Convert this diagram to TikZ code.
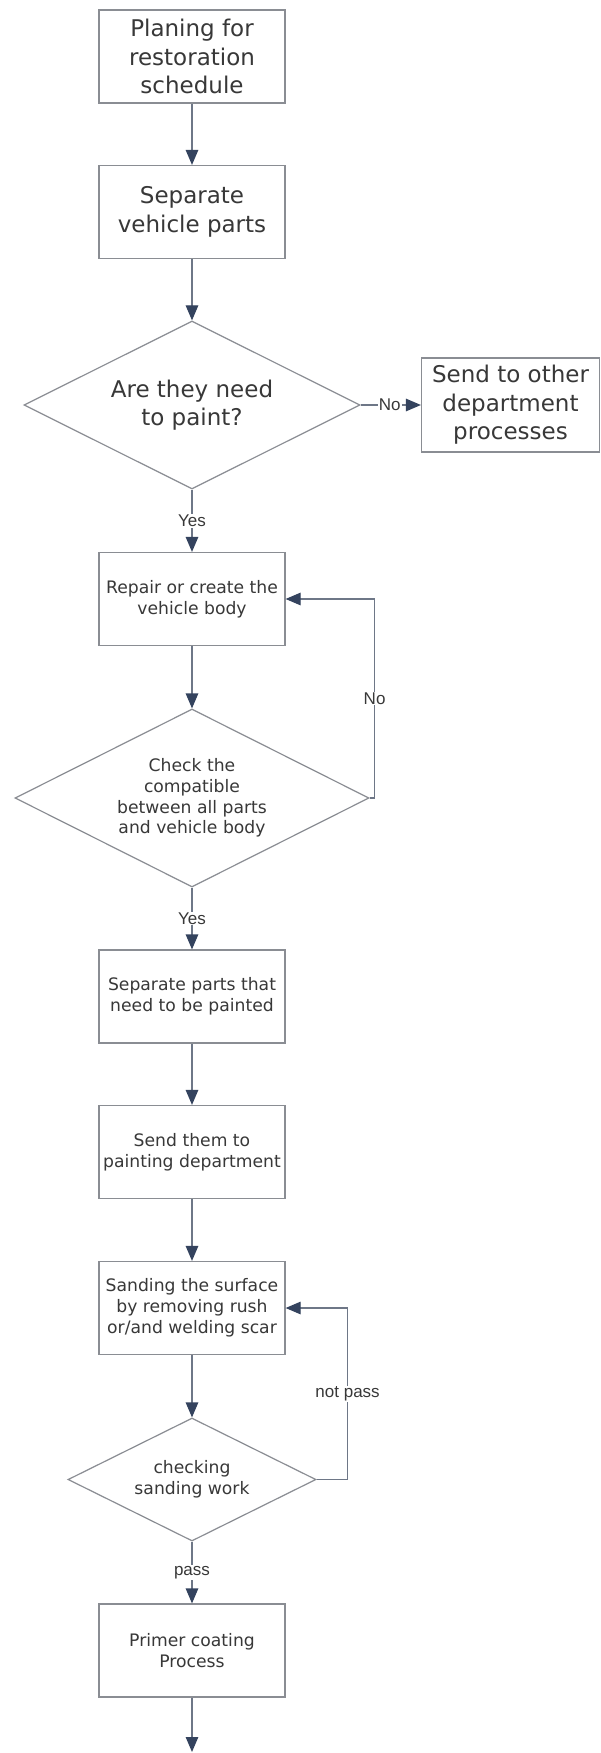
\documentclass[tikz,border=0pt]{standalone}
\usepackage{fontspec}
\setmainfont{DejaVu Sans}
\newfontfamily\labfont{Liberation Sans}
\usetikzlibrary{shapes.geometric,arrows.meta}

\definecolor{boxline}{HTML}{8A8D93}
\definecolor{linkline}{HTML}{6E7787}
\definecolor{tipcol}{HTML}{34435E}
\definecolor{txt}{HTML}{383838}

\tikzset{
  bigtext/.style={font=\fontsize{23}{28.5}\selectfont},
  smalltext/.style={font=\fontsize{17.2}{20.8}\selectfont},
  stepbox/.style={draw=boxline, line width=1.2pt, rectangle, align=center,
    text=txt, minimum width=186pt, minimum height=93pt, inner sep=2pt},
  decide/.style={draw=boxline, line width=1.2pt, diamond, align=center,
    text=txt, inner sep=0pt, aspect=2},
  link/.style={draw=linkline, line width=1.2pt,
    -{Triangle[length=15pt,width=12.5pt,color=tipcol]}},
  lab/.style={font=\labfont\fontsize{17}{20}\selectfont, text=txt,
    fill=white, inner sep=1pt},
}

\begin{document}
\begin{tikzpicture}[x=1pt,y=-1pt]
\useasboundingbox (0,0) rectangle (600,1753);
\fill[white] (0,0) rectangle (600,1753);

% process steps
\node[stepbox, bigtext] (plan) at (192,56.5) {Planing for\\restoration\\schedule};
\node[stepbox, bigtext] (sep) at (192,212) {Separate\\vehicle parts};
\node[decide, bigtext, minimum width=336pt, minimum height=168pt] (paint) at (192,405) {Are they need\\to paint?};
\node[stepbox, bigtext, minimum width=178pt, minimum height=94pt] (other) at (510.5,405) {Send to other\\department\\processes};
\node[stepbox, smalltext] (repair) at (192,599) {Repair or create the\\vehicle body};
\node[decide, smalltext, minimum width=354pt, minimum height=178pt] (compat) at (192,798) {Check the\\compatible\\between all parts\\and vehicle body};
\node[stepbox, smalltext] (parts) at (192,996.5) {Separate parts that\\need to be painted};
\node[stepbox, smalltext] (dept) at (192,1152) {Send them to\\painting department};
\node[stepbox, smalltext] (sand) at (192,1308) {Sanding the surface\\by removing rush\\or/and welding scar};
\node[decide, smalltext, minimum width=248pt, minimum height=123pt] (check) at (192,1479.5) {checking\\sanding work};
\node[stepbox, smalltext] (primer) at (192,1650.5) {Primer coating\\Process};
\coordinate (next) at (192,1752);

% connectors
\draw[link] (plan) -- (sep);
\draw[link] (sep) -- (paint);
\draw[link] (paint.east) -- node[lab, pos=0.5, xshift=-1pt] {No} (other.west);
\draw[link] (paint.south) -- node[lab] {Yes} (repair.north);
\draw[link] (repair) -- (compat);
\draw[link] (compat.east) -- ++(5,0) |- node[lab, pos=0.25] {No} (repair.east);
\draw[link] (compat.south) -- node[lab] {Yes} (parts.north);
\draw[link] (parts) -- (dept);
\draw[link] (dept) -- (sand);
\draw[link] (sand) -- (check);
\draw[link] (check.east) -- ++(31,0) |- node[lab, pos=0.25] {not pass} (sand.east);
\draw[link] (check.south) -- node[lab] {pass} (primer.north);
\draw[link] (primer) -- (next);
\end{tikzpicture}
\end{document}
